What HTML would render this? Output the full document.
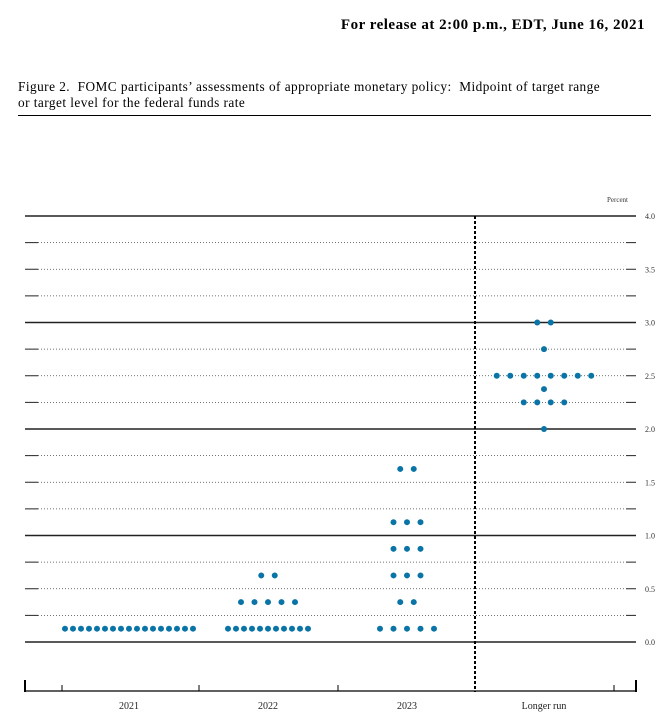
<!DOCTYPE html>
<html><head><meta charset="utf-8"><style>
body{margin:0;background:#fff;width:669px;height:720px;overflow:hidden;font-family:"Liberation Serif",serif;}
#hdr{position:absolute;right:24px;top:17px;font-weight:bold;font-size:15px;letter-spacing:0.5px;white-space:nowrap;}
#cap{position:absolute;left:18px;top:79px;width:640px;font-size:13.3px;line-height:16px;letter-spacing:0.45px;white-space:nowrap;}
#rule{position:absolute;left:18px;top:115px;width:633px;height:1px;background:#000;}
svg{position:absolute;left:0;top:0;}
</style></head><body>
<div id="hdr">For release at 2:00 p.m., EDT, June 16, 2021</div>
<div id="cap">Figure 2.&nbsp; FOMC participants’ assessments of appropriate monetary policy:&nbsp; Midpoint of target range<br>or target level for the federal funds rate</div>
<div id="rule"></div>
<svg id="chart" width="669" height="720"></svg>
<script>
const categories=["2021","2022","2023","Longer run"];
const rates=[0.125,0.375,0.625,0.875,1.125,1.625,2.0,2.25,2.375,2.5,2.75,3.0];
const counts2021=[17,0,0,0,0,0,0,0,0,0,0,0];
const counts2022=[11,5,2,0,0,0,0,0,0,0,0,0];
const counts2023=[5,2,3,3,3,2,0,0,0,0,0,0];
const countsLR=[0,0,0,0,0,0,1,4,1,8,1,2];
const tickLabels=["0.0","0.5","1.0","1.5","2.0","2.5","3.0","3.5","4.0"];
const series=[counts2021,counts2022,counts2023,countsLR];
const NS="http://www.w3.org/2000/svg",svg=document.getElementById('chart');
const y=v=>642-v*106.5;
const colX=[129,268,407,544];
function mk(t,a){const e=document.createElementNS(NS,t);for(const k in a)e.setAttribute(k,a[k]);svg.appendChild(e);return e;}
for(let i=0;i<=16;i++){const v=i*0.25,yy=y(v);
 if(i%4==0){const l=mk('line',{x1:25,x2:636,y1:yy,y2:yy,stroke:'#222','stroke-width':1.6});}
 else{const l=mk('line',{x1:38,x2:626,y1:yy,y2:yy,stroke:'#444','stroke-width':0.8,'stroke-dasharray':'1,2'});
  mk('line',{x1:25,x2:38,y1:yy,y2:yy,stroke:'#222','stroke-width':1});mk('line',{x1:626,x2:636,y1:yy,y2:yy,stroke:'#222','stroke-width':1});}
}
tickLabels.forEach((t,i)=>{const e=mk('text',{x:645,y:y(i*0.5)+3,'font-size':8,fill:'#333'});e.textContent=t;});
const p=mk('text',{x:607,y:202,'font-size':7,fill:'#333'});p.textContent='Percent';
const vd=mk('line',{x1:475,x2:475,y1:216,y2:692,stroke:'#000','stroke-width':2,'stroke-dasharray':'3,2'});
const ax=mk('line',{x1:25,x2:636,y1:691,y2:691,stroke:'#000','stroke-width':1.2});
mk('line',{x1:25,x2:25,y1:680,y2:692,stroke:'#000','stroke-width':2});mk('line',{x1:636,x2:636,y1:680,y2:692,stroke:'#000','stroke-width':2});
[62,199,338,614].forEach(x=>mk('line',{x1:x,x2:x,y1:685,y2:691,stroke:'#000','stroke-width':1}));
categories.forEach((c,i)=>{const e=mk('text',{x:colX[i],y:709,'font-size':10,'text-anchor':'middle',fill:'#222'});e.textContent=c;});
series.forEach((cnt,ci)=>{cnt.forEach((n,ri)=>{if(!n)return;const sp=n>9?8:13.5;
 for(let k=0;k<n;k++){const cx=colX[ci]+(k-(n-1)/2)*sp;const d=mk('circle',{cx:cx,cy:y(rates[ri]),r:3,fill:'#0a74a6'});
 }});});
</script>
</body></html>
